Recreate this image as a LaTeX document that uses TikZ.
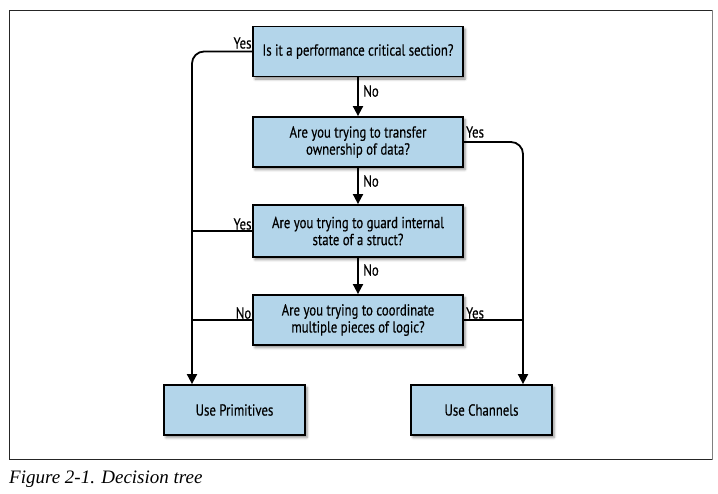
\documentclass[tikz,border=0pt]{standalone}
\usepackage{fontspec}
\usetikzlibrary{arrows.meta,shadows.blur,calc}
\newfontfamily\boxfont{PT Sans}[FakeStretch=0.8,FakeBold=0.4]
\newfontfamily\capfont{Liberation Serif}
\definecolor{boxblue}{HTML}{B3D5EA}
\tikzset{
  qbox/.style={draw=black, line width=1.8pt, fill=boxblue, minimum height=50pt,
    align=center, inner sep=0pt, font=\boxfont\fontsize{16}{17}\selectfont,
    blur shadow={shadow xshift=2pt, shadow yshift=-2.5pt, shadow blur radius=2.5pt, shadow opacity=45}},
  conn/.style={line width=1.8pt, draw=black},
  arr/.style={conn, -{Triangle[width=10pt,length=10pt]}},
  lbl/.style={font=\boxfont\fontsize{16}{17}\selectfont, inner sep=0pt},
}
\begin{document}
\begin{tikzpicture}[x=1pt,y=-1pt]
\useasboundingbox (0,0) rectangle (718,493);
\draw[line width=1pt, black!85] (9,10) rectangle (712,459);
\draw[line width=1.5pt, black!50] (712.5,10) -- (712.5,459.5);
\node[anchor=base west, inner sep=0pt, font=\capfont\itshape\fontsize{19}{21}\selectfont] (cap) at (9,483) {Figure 2-1. Decision tree};

\node[qbox, minimum width=210pt] (b1) at (358,51.5) {Is it a performance critical section?};
\node[qbox, minimum width=210pt] (b2) at (358,142) {Are you trying to transfer\\ownership of data?};
\node[qbox, minimum width=210pt, minimum height=52pt] (b3) at (358,231) {Are you trying to guard internal\\state of a struct?};
\node[qbox, minimum width=210pt] (b4) at (358,320) {Are you trying to coordinate\\multiple pieces of logic?};
\node[qbox, minimum width=141pt] (b5) at (234.5,410) {Use Primitives};
\node[qbox, minimum width=141pt] (b6) at (481.5,410) {Use Channels};

\coordinate (L) at (192,0);
\coordinate (R) at (523,0);

\draw[arr] (b1) -- (b2);
\draw[arr] (b2) -- (b3);
\draw[arr] (b3) -- (b4);
\draw[arr, rounded corners=12pt] (b1.west) -| (L |- b5.north);
\draw[arr, rounded corners=12pt] (b2.east) -| (R |- b6.north);
\draw[conn] (b3.west) -- (L |- b3.west);
\draw[conn] (b4.west) -- (L |- b4.west);
\draw[conn] (b4.east) -- (R |- b4.east);

\node[lbl] (y1) at (242.5,43) {Yes};
\node[lbl] (n1) at (371,91) {No};
\node[lbl] (y2) at (475,132) {Yes};
\node[lbl] (n2) at (371,181) {No};
\node[lbl] (y3) at (242.5,224) {Yes};
\node[lbl] (n3) at (371,270) {No};
\node[lbl] (n4) at (243.5,313) {No};
\node[lbl] (y4) at (475,313) {Yes};
\end{tikzpicture}
\end{document}
